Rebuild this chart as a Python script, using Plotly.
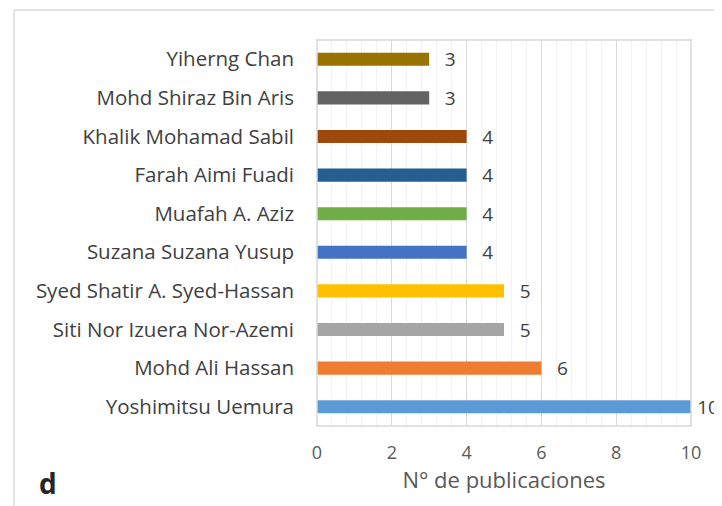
import plotly.graph_objects as go

authors = ["Yoshimitsu Uemura", "Mohd Ali Hassan", "Siti Nor Izuera Nor-Azemi",
           "Syed Shatir A. Syed-Hassan", "Suzana Suzana Yusup", "Muafah A. Aziz",
           "Farah Aimi Fuadi", "Khalik Mohamad Sabil", "Mohd Shiraz Bin Aris", "Yiherng Chan"]
pubs = [10, 6, 5, 5, 4, 4, 4, 4, 3, 3]
colors = ["#5B9BD5", "#ED7D31", "#A5A5A5", "#FFC000", "#4472C4", "#70AD47",
          "#255E91", "#9E480E", "#636363", "#997300"]
x_ticks = [0, 2, 4, 6, 8, 10]

FONT = "Open Sans"
x_max = max(x_ticks)
labels = [("\u2009" if v >= x_max else "\u2002\u2009") + str(v) for v in pubs]

fig = go.Figure(go.Bar(
    y=authors, x=pubs, orientation="h",
    marker=dict(color=colors, line=dict(width=0)),
    text=labels, textposition="outside", cliponaxis=False,
    constraintext="none",
    textfont=dict(family=FONT, size=19, color="#404040"),
))

fig.update_layout(
    width=722, height=506,
    margin=dict(l=309, r=39, t=32, b=88, autoexpand=False),
    paper_bgcolor="white", plot_bgcolor="white",
    bargap=0.66, showlegend=False,
    font=dict(family=FONT, size=16, color="#404040"),
    xaxis=dict(range=[0, 10], tickvals=x_ticks, showgrid=True, gridcolor="#D9D9D9",
               gridwidth=1, zeroline=False, showline=False,
               tickfont=dict(family=FONT, size=18, color="#595959"),
               ticklabelstandoff=14,
               minor=dict(dtick=0.4, showgrid=True, gridcolor="#F2F2F2", gridwidth=1),
               title=dict(text="N° de publicaciones", standoff=0,
                          font=dict(family=FONT, size=22, color="#595959")),
               ticklen=0, ticks=""),
    yaxis=dict(categoryorder="array", categoryarray=authors, showgrid=False,
               ticks="", ticklen=0, ticklabelstandoff=22,
               tickfont=dict(family=FONT, size=20.5, color="#404040")),
    shapes=[
        dict(type="rect", xref="paper", yref="paper", x0=0, x1=1, y0=0, y1=1,
             line=dict(color="#D9D9D9", width=1.5), fillcolor="rgba(0,0,0,0)"),
        dict(type="line", xref="paper", yref="paper", x0=-0.81, x1=1.2, y0=1.0777, y1=1.0777,
             line=dict(color="#D9D9D9", width=1.5)),
        dict(type="line", xref="paper", yref="paper", x0=-0.81, x1=-0.81, y0=1.0777, y1=-0.3,
             line=dict(color="#D9D9D9", width=1.5)),
    ],
    annotations=[dict(text="<b>d</b>", xref="paper", yref="paper", x=-0.72, y=-0.147,
                      xanchor="center", yanchor="middle", showarrow=False,
                      font=dict(family=FONT, size=28, color="#262626"))],
)

fig.write_html("out.html")
